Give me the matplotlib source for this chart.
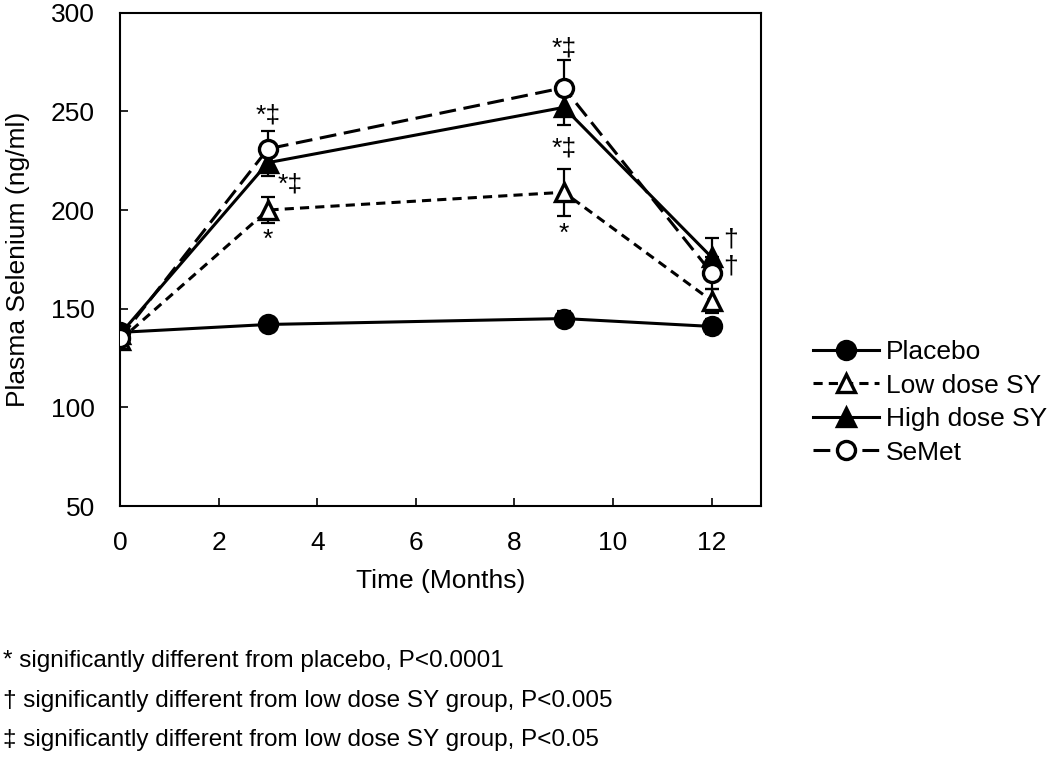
import numpy as np
import matplotlib.pyplot as plt

plt.rcParams['font.family'] = ['Liberation Sans', 'DejaVu Sans']

# data
months = [0, 3, 9, 12]
placebo = [138, 142, 145, 141]
placebo_err = [3, 3, 4, 4]
low_dose = [134, 200, 209, 154]
low_dose_err = [3, 6.5, 12, 6]
high_dose = [137, 224, 252, 176]
high_dose_err = [3, 7, 9, 10]
semet = [135, 231, 262, 168]
semet_err = [3, 9, 14, 8]

labels = ['Placebo', 'Low dose SY', 'High dose SY', 'SeMet']

# significance marks: (x, y, text)
sig_x = [3, 3.45, 3, 9, 9, 9, 12.38, 12.38]
sig_y = [248, 213, 185, 282, 231, 188, 185, 171.5]
sig_txt = ['*‡', '*‡', '*', '*‡', '*‡', '*', '†', '†']

footnotes = ['* significantly different from placebo, P<0.0001',
             '† significantly different from low dose SY group, P<0.005',
             '‡ significantly different from low dose SY group, P<0.05']

font_size = 19
lw = 2.2
ms = 13

fig = plt.figure(figsize=(10.5, 7.59), dpi=100)
ax = fig.add_axes([0.1143, 0.3333, 0.6105, 0.650])

styles = [
    dict(ls='-', marker='o', mfc='black', mec='black'),
    dict(ls=(0, (3, 2)), marker='^', mfc='white', mec='black'),
    dict(ls='-', marker='^', mfc='black', mec='black'),
    dict(ls=(0, (5.5, 2.5)), marker='o', mfc='white', mec='black'),
]

handles = []
for vals, errs, st, lab in zip([placebo, low_dose, high_dose, semet],
                               [placebo_err, low_dose_err, high_dose_err, semet_err],
                               styles, labels):
    ax.errorbar(months, vals, yerr=errs, fmt='none', ecolor='black',
                elinewidth=1.6, capsize=5, capthick=1.6, zorder=2)
    h, = ax.plot(months, vals, color='black', lw=lw, ls=st['ls'],
                 marker=st['marker'], ms=ms, mfc=st['mfc'], mec=st['mec'],
                 mew=2.4, label=lab, zorder=3)
    handles.append(h)

for x, y, t in zip(sig_x, sig_y, sig_txt):
    ax.text(x, y, t, ha='center', va='center', fontsize=font_size)

ax.set_xlim(0, 13)
ax.set_ylim(50, 300)
ax.set_xticks([0, 2, 4, 6, 8, 10, 12])
ax.set_yticks([50, 100, 150, 200, 250, 300])
ax.tick_params(direction='in', length=6, width=1.2, labelsize=font_size, pad=18)
for sp in ax.spines.values():
    sp.set_linewidth(1.5)

ax.set_xlabel('Time (Months)', fontsize=font_size, labelpad=10)
ax.set_ylabel('Plasma Selenium (ng/ml)', fontsize=font_size, labelpad=15)

fig.legend(handles=handles, loc='center left', bbox_to_anchor=(0.752, 0.470),
           frameon=False, fontsize=font_size, handlelength=2.5, handletextpad=0.25,
           labelspacing=0.36)

for i, t in enumerate(footnotes):
    fig.text(0.003, 0.129 - i * 0.052, t, fontsize=17.5, va='center', ha='left')

fig.savefig('out.png', dpi=100)
